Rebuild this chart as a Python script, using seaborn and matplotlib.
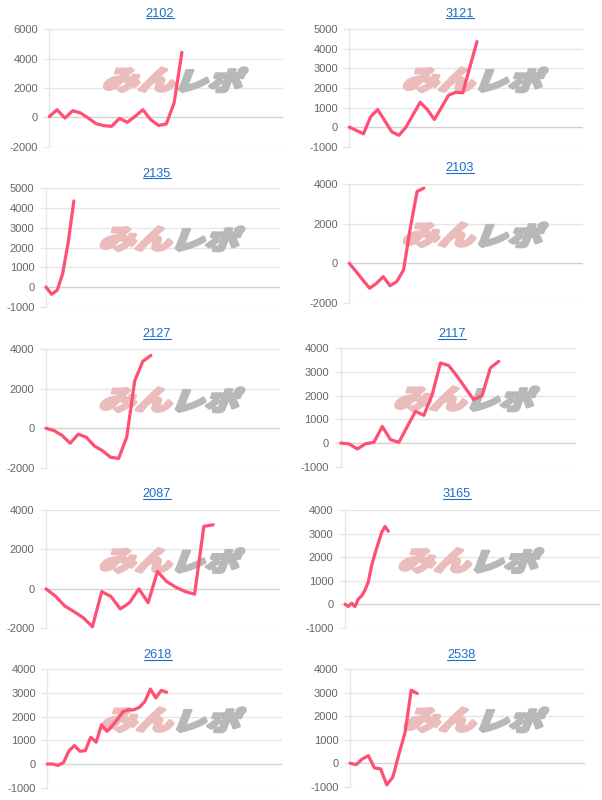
import numpy as np
import pandas as pd
import matplotlib
matplotlib.use("Agg")
import matplotlib.pyplot as plt
import seaborn as sns
from matplotlib.textpath import TextPath
from matplotlib.font_manager import FontProperties
from matplotlib.patches import PathPatch
from matplotlib.transforms import Affine2D
from matplotlib.lines import Line2D

# ---------------- data ----------------
codes = ["2102", "3121", "2135", "2103", "2127", "2117", "2087", "3165", "2618", "2538"]

s2102 = [50, 520, -50, 450, 300, -50, -430, -570, -610, -70, -340, 70, 520, -160, -550, -450, 980, 4430]
s3121 = [0, -170, -340, 525, 900, 330, -240, -420, 0, 640, 1270, 900, 390, 1010, 1630, 1780, 1750, 3070, 4370]
s2135 = [0, -370, -170, 680, 2290, 4360]
s2103 = [0, -420, -850, -1270, -1020, -680, -1140, -930, -340, 1800, 3640, 3810]
s2127 = [0, -120, -370, -760, -300, -460, -900, -1140, -1470, -1530, -460, 2410, 3390, 3690]
s2117 = [0, -40, -250, -30, 30, 700, 140, 30, 690, 1340, 1170, 2040, 3380, 3270, 2820, 2320, 1830, 2000, 3170, 3450]
s2087 = [0, -360, -860, -1150, -1460, -1920, -140, -390, -1020, -700, 0, -700, 880, 370, 80, -140, -270, 3170, 3250]
s3165 = [0, -100, 40, -100, 220, 350, 600, 950, 1650, 2150, 2600, 3050, 3300, 3100]
s2618 = [0, 0, -60, 70, 560, 780, 540, 560, 1130, 920, 1660, 1380, 1620, 1910, 2220, 2290, 2290, 2400, 2650, 3170, 2790, 3110, 3030]
s2538 = [0, -60, 180, 320, -200, -240, -920, -590, 390, 1310, 3110, 2970]

series = [s2102, s3121, s2135, s2103, s2127, s2117, s2087, s3165, s2618, s2538]

# y axis (min, max, step)
y_axes = [(-2000, 6000, 2000), (-1000, 5000, 1000), (-1000, 5000, 1000), (-2000, 4000, 2000),
          (-2000, 4000, 2000), (-1000, 4000, 1000), (-2000, 4000, 2000), (-1000, 4000, 1000),
          (-1000, 4000, 1000), (-1000, 4000, 1000)]

# ---------------- layout ----------------
W, H = 602, 800
x_span = [30, 33, 42, 34.5, 29, 28.3, 25.2, 76.5, 43.2, 38.4]
boxes = [  # left, top, right, bottom (pixels)
    (49.3, 29.3, 283.3, 146.7),
    (349.3, 29.3, 583.3, 146.7),
    (46.0, 188.3, 280.0, 306.7),
    (349.3, 184.3, 583.3, 302.7),
    (46.0, 349.3, 280.0, 467.7),
    (340.7, 348.3, 576.0, 466.7),
    (46.0, 510.0, 280.0, 628.3),
    (345.0, 510.0, 600.0, 627.7),
    (47.3, 669.3, 281.7, 787.7),
    (350.0, 669.3, 585.0, 786.7),
]
title_pos = [(160, 16.7), (460, 16.7), (157, 176.7), (460, 171.3), (157, 337.3),
             (452, 337.0), (157, 497.3), (457, 497.3), (158, 658.0), (461, 658.0)]

LINE = "#ff4f72"
GRID = "#e6e6e6"
ZERO = "#d2d2d2"
TICKC = "#666666"
LINK = "#1a6ec8"

sns.set_theme(style="white")
plt.rcParams['font.family'] = ['Liberation Sans', 'DejaVu Sans']

fig = plt.figure(figsize=(W / 100, H / 100), dpi=100)

fp = FontProperties(family=['Noto Sans CJK JP'], weight='black')


def add_word(ax, text, color, x0, y0, x1, y1):
    tp = TextPath((0, 0), text, size=100, prop=fp)
    path = Affine2D().skew_deg(16, 0).transform_path(tp)
    ext = path.get_extents()
    sx = (x1 - x0) / ext.width
    sy = (y1 - y0) / ext.height
    tr = (Affine2D().translate(-ext.x0, -ext.y0).scale(sx, sy)
          .translate(x0, H - y1).scale(1 / W, 1 / H) + fig.transFigure)
    patch = PathPatch(path, facecolor=color, edgecolor=color, linewidth=2.2,
                      joinstyle='round', transform=tr, zorder=1.5, clip_on=False)
    ax.add_patch(patch)


axes = []
for i, (code, vals) in enumerate(zip(codes, series)):
    l, t, r, b = boxes[i]
    ax = fig.add_axes([l / W, 1 - b / H, (r - l) / W, (b - t) / H])
    axes.append(ax)
    df = pd.DataFrame({"x": np.arange(len(vals)), "v": vals})
    sns.lineplot(data=df, x="x", y="v", ax=ax, color=LINE, linewidth=2.3,
                 legend=False, zorder=3)
    for ln in ax.lines:
        ln.set_solid_joinstyle('round')
        ln.set_solid_capstyle('round')
        ln.set_clip_on(False)
    ymin, ymax, step = y_axes[i]
    ax.set_ylim(ymin, ymax)
    ax.set_xlim(0, x_span[i])
    ticks = np.arange(ymin, ymax + 1, step)
    ax.set_yticks(ticks)
    ax.set_yticklabels([str(int(v)) for v in ticks])
    ax.set_xticks([])
    ax.set_xlabel("")
    ax.set_ylabel("")
    ax.grid(False)
    for v in ticks:
        ax.axhline(v, color=ZERO if v == 0 else GRID, lw=1.0, zorder=0.5)
    for s in ["top", "right", "bottom"]:
        ax.spines[s].set_visible(False)
    ax.spines["left"].set_color(GRID)
    ax.spines["left"].set_linewidth(1.0)
    ax.tick_params(axis='y', length=4, width=1.0, color=GRID, pad=4.3,
                   labelsize=8.0, labelcolor=TICKC, left=True)
    ax.patch.set_alpha(0)

    # watermark
    wx0 = l + 55
    wy0 = t + 38.5
    add_word(ax, "みん", "#ebbcbc", wx0, wy0, wx0 + 71, wy0 + 24)
    add_word(ax, "レポ", "#b8b8b8", wx0 + 75, wy0, wx0 + 143, wy0 + 24)

# titles (link style)
title_texts = []
for i, code in enumerate(codes):
    x, y = title_pos[i]
    tt = fig.text(x / W, 1 - y / H, code, ha='center', va='baseline',
                  color=LINK, fontsize=9.2)
    title_texts.append(tt)

fig.canvas.draw()
renderer = fig.canvas.get_renderer()
for i, tt in enumerate(title_texts):
    bb = tt.get_window_extent(renderer)
    x, y = title_pos[i]
    uy = 1 - (y + 1.6) / H
    fig.add_artist(Line2D([bb.x0 / W, bb.x1 / W], [uy, uy], color=LINK, lw=0.8,
                          transform=fig.transFigure))

fig.savefig("out.png", dpi=100)
